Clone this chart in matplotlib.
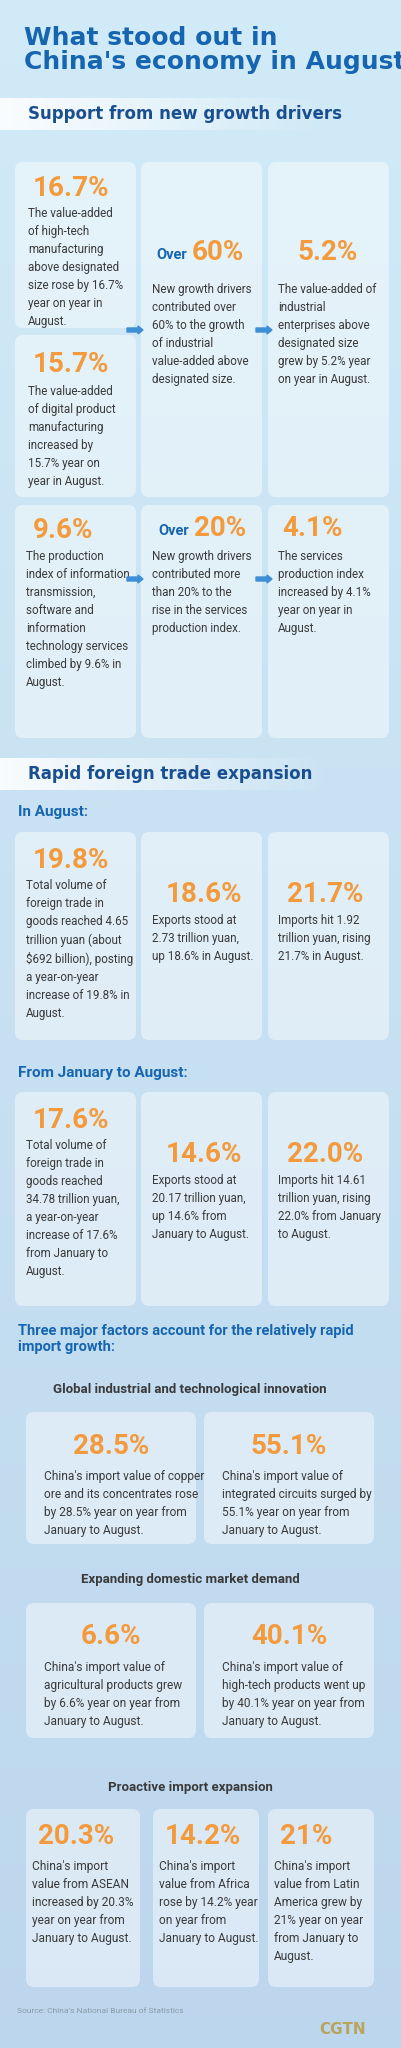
import numpy as np
import matplotlib.pyplot as plt
from matplotlib.patches import FancyBboxPatch, FancyArrow

W, H = 402, 2048
BLUE = '#1565b0'
DARK = '#1a4f8f'
ORANGE = '#f39a3c'
GREY = '#3a3a3a'
BODY = ['Roboto', 'DejaVu Sans']

title = "What stood out in\nChina's economy in August?"
sec1 = "Support from new growth drivers"
sec2 = "Rapid foreign trade expansion"

# (value, prefix, body) for each card
drivers_row1 = [
    ("16.7%", "", "The value-added\nof high-tech\nmanufacturing\nabove designated\nsize rose by 16.7%\nyear on year in\nAugust."),
    ("15.7%", "", "The value-added\nof digital product\nmanufacturing\nincreased by\n15.7% year on\nyear in August."),
    ("60%", "Over", "New growth drivers\ncontributed over\n60% to the growth\nof industrial\nvalue-added above\ndesignated size."),
    ("5.2%", "", "The value-added of\nindustrial\nenterprises above\ndesignated size\ngrew by 5.2% year\non year in August."),
]
drivers_row2 = [
    ("9.6%", "", "The production\nindex of information\ntransmission,\nsoftware and\ninformation\ntechnology services\nclimbed by 9.6% in\nAugust."),
    ("20%", "Over", "New growth drivers\ncontributed more\nthan 20% to the\nrise in the services\nproduction index."),
    ("4.1%", "", "The services\nproduction index\nincreased by 4.1%\nyear on year in\nAugust."),
]
august = [
    ("19.8%", "Total volume of\nforeign trade in\ngoods reached 4.65\ntrillion yuan (about\n$692 billion), posting\na year-on-year\nincrease of 19.8% in\nAugust."),
    ("18.6%", "Exports stood at\n2.73 trillion yuan,\nup 18.6% in August."),
    ("21.7%", "Imports hit 1.92\ntrillion yuan, rising\n21.7% in August."),
]
jan_aug = [
    ("17.6%", "Total volume of\nforeign trade in\ngoods reached\n34.78 trillion yuan,\na year-on-year\nincrease of 17.6%\nfrom January to\nAugust."),
    ("14.6%", "Exports stood at\n20.17 trillion yuan,\nup 14.6% from\nJanuary to August."),
    ("22.0%", "Imports hit 14.61\ntrillion yuan, rising\n22.0% from January\nto August."),
]
factor_titles = ["Global industrial and technological innovation",
                 "Expanding domestic market demand",
                 "Proactive import expansion"]
innovation = [
    ("28.5%", "China's import value of copper\nore and its concentrates rose\nby 28.5% year on year from\nJanuary to August."),
    ("55.1%", "China's import value of\nintegrated circuits surged by\n55.1% year on year from\nJanuary to August."),
]
demand = [
    ("6.6%", "China's import value of\nagricultural products grew\nby 6.6% year on year from\nJanuary to August."),
    ("40.1%", "China's import value of\nhigh-tech products went up\nby 40.1% year on year from\nJanuary to August."),
]
proactive = [
    ("20.3%", "China's import\nvalue from ASEAN\nincreased by 20.3%\nyear on year from\nJanuary to August."),
    ("14.2%", "China's import\nvalue from Africa\nrose by 14.2% year\non year from\nJanuary to August."),
    ("21%", "China's import\nvalue from Latin\nAmerica grew by\n21% year on year\nfrom January to\nAugust."),
]

fig = plt.figure(figsize=(W / 100, H / 100), dpi=100)
ax = fig.add_axes([0, 0, 1, 1])
ax.set_xlim(0, W)
ax.set_ylim(H, 0)
ax.axis('off')

# background gradient
grad = np.linspace(0, 1, 256)[:, None]
top = np.array([0.82, 0.92, 0.97])
bot = np.array([0.74, 0.84, 0.93])
ax.imshow(top + (bot - top) * grad[..., None], extent=[0, W, H, 0], aspect='auto', zorder=0)


def band(y0, y1):
    g = np.linspace(1, 0, 256)[None, :]
    img = np.ones((1, 256, 4))
    img[..., 3] = 0.9 * g
    ax.imshow(img, extent=[0, 330, y1, y0], aspect='auto', zorder=1)


def card(x0, y0, x1, y1):
    ax.add_patch(FancyBboxPatch((x0, y0), x1 - x0, y1 - y0, boxstyle="round,pad=0,rounding_size=8",
                                fc='white', alpha=0.45, ec='none', zorder=2))


def big(x, y, s, ha='left', size=20):
    ax.text(x, y, s, color=ORANGE, fontsize=size, fontweight='bold', ha=ha, va='center',
            family=BODY, zorder=3)


def body(x, y, s, size=8.4, ha='left'):
    ax.text(x, y, s, color=GREY, fontsize=size, ha=ha, va='top', family=BODY,
            linespacing=1.5, zorder=3)


ax.text(24, 50, title, color=BLUE, fontsize=18, fontweight='bold', va='center',
        linespacing=0.95, zorder=3)

band(98, 130)
ax.text(28, 114, sec1, color=DARK, fontsize=12, fontweight='bold', va='center', zorder=3)

# section 1 row 1
cols = [(15, 136), (141, 262), (268, 389)]
card(15, 162, 136, 328)
card(15, 335, 136, 497)
card(141, 162, 262, 497)
card(268, 162, 389, 497)
big(33, 188, drivers_row1[0][0])
body(28, 207, drivers_row1[0][2])
big(33, 365, drivers_row1[1][0])
body(28, 385, drivers_row1[1][2])
ax.text(156, 255, drivers_row1[2][1], color=BLUE, fontsize=10.5, fontweight='bold', va='center',
        family=BODY, zorder=3)
big(192, 253, drivers_row1[2][0])
body(152, 283, drivers_row1[2][2])
big(298, 253, drivers_row1[3][0])
body(278, 283, drivers_row1[3][2])

# section 1 row 2
for x0, x1 in cols:
    card(x0, 505, x1, 738)
big(33, 531, drivers_row2[0][0])
body(26, 550, drivers_row2[0][2])
ax.text(158, 531, drivers_row2[1][1], color=BLUE, fontsize=10.5, fontweight='bold', va='center',
        family=BODY, zorder=3)
big(194, 529, drivers_row2[1][0])
body(152, 550, drivers_row2[1][2])
big(282, 529, drivers_row2[2][0])
body(278, 550, drivers_row2[2][2])

# arrows between cards
for ax_x, ay in [(127, 330), (256, 330), (127, 579), (256, 579)]:
    ax.add_patch(FancyArrow(ax_x, ay, 16, 0, width=4, head_width=8, head_length=5,
                            color='#3d8fd6', length_includes_head=True, zorder=4))

band(758, 790)
ax.text(28, 774, sec2, color=DARK, fontsize=12, fontweight='bold', va='center', zorder=3)


def trade_row(label, ly, y0, y1, items):
    ax.text(18, ly, label, color=BLUE, fontsize=11, fontweight='bold', va='center',
            family=BODY, zorder=3)
    for x0, x1 in cols:
        card(x0, y0, x1, y1)
    big(33, y0 + 28, items[0][0])
    body(26, y0 + 47, items[0][1])
    big(166, y0 + 63, items[1][0])
    body(152, y0 + 82, items[1][1])
    big(287, y0 + 63, items[2][0])
    body(278, y0 + 82, items[2][1])


trade_row("In August:", 812, 832, 1040, august)
trade_row("From January to August:", 1073, 1092, 1306, jan_aug)

ax.text(18, 1339, "Three major factors account for the relatively rapid\nimport growth:", color=BLUE,
        fontsize=10.5, fontweight='bold', va='center', family=BODY, linespacing=1.15, zorder=3)


def pair_row(label, ly, y0, y1, items):
    ax.text(190, ly, label, color=GREY, fontsize=9.5, fontweight='bold', ha='center', va='center',
            family=BODY, zorder=3)
    for (x0, x1), (val, txt) in zip([(26, 196), (204, 374)], items):
        card(x0, y0, x1, y1)
        big((x0 + x1) / 2, y0 + 34, val, ha='center')
        body(x0 + 18, y0 + 58, txt, size=8.6)


pair_row(factor_titles[0], 1389, 1412, 1544, innovation)
pair_row(factor_titles[1], 1580, 1603, 1738, demand)

ax.text(190, 1787, factor_titles[2], color=GREY, fontsize=9.5, fontweight='bold', ha='center',
        va='center', family=BODY, zorder=3)
for (x0, x1), (val, txt) in zip([(26, 140), (153, 259), (268, 374)], proactive):
    card(x0, 1809, x1, 1987)
    big(x0 + 12, 1836, val)
    body(x0 + 6, 1860, txt, size=8.6)

ax.text(17, 2011, "Source: China's National Bureau of Statistics", color='#8a9aa8', fontsize=6,
        va='center', family=BODY, zorder=3)
ax.text(366, 2029, "CGTN", color='#b8a45a', fontsize=11, fontweight='bold', ha='right',
        va='center', zorder=3)

fig.savefig('out.png', dpi=100)
